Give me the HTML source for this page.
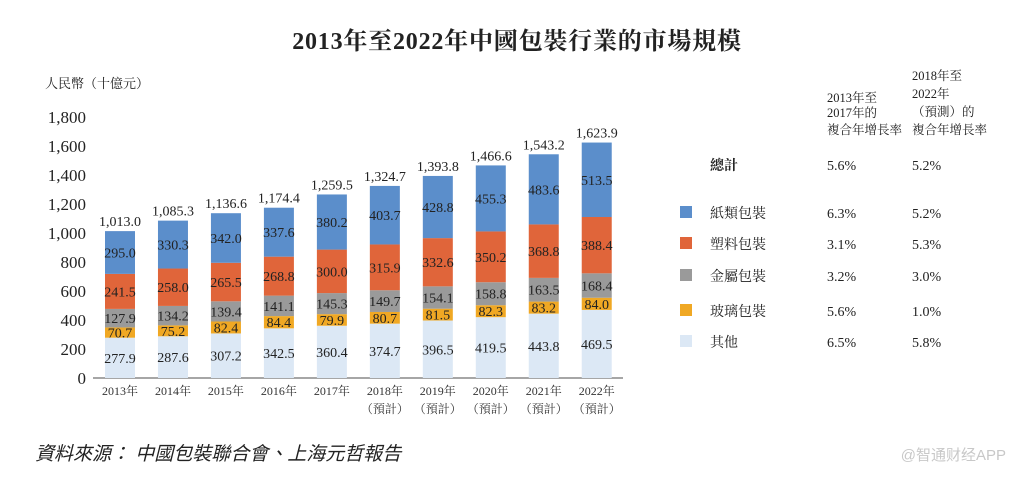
<!DOCTYPE html>
<html><head><meta charset="utf-8"><style>
body{margin:0;background:#fff;width:1013px;height:473px;overflow:hidden}
svg text{font-family:"Liberation Serif","Noto Serif CJK SC","Noto Sans CJK TC",serif;fill:#222}
</style></head><body>
<svg id="chart" width="1013" height="473">
<text x="517" y="49" text-anchor="middle" font-size="24" font-weight="bold" letter-spacing="0.8">2013年至2022年中國包裝行業的市場規模</text>
<text x="45" y="88" font-size="13">人民幣（十億元）</text>
<g id="yaxis"></g><g id="bars"></g><g id="xlabels"></g>
<g id="legend" font-size="14">
<text x="827" y="102" font-size="12.5">2013年至</text>
<text x="827" y="117" font-size="12.5">2017年的</text>
<text x="827" y="134" font-size="12.5">複合年增長率</text>
<text x="912" y="80" font-size="12.5">2018年至</text>
<text x="912" y="98" font-size="12.5">2022年</text>
<text x="912" y="116" font-size="12.5">（預測）的</text>
<text x="912" y="134" font-size="12.5">複合年增長率</text>
<text x="710" y="170" font-weight="bold">總計</text>
<text x="827" y="170">5.6%</text>
<text x="912" y="170">5.2%</text>
</g>
<text x="35" y="460" font-size="19" font-style="italic" style="font-family:'Liberation Sans','Noto Sans CJK TC',sans-serif">資料來源： 中國包裝聯合會、上海元哲報告</text>
<text x="1006" y="460" font-size="15" text-anchor="end" style="fill:#c8c8c8;font-family:'Liberation Sans','Noto Sans CJK SC',sans-serif">@智通财经APP</text>
</svg>
<script>
const years=["2013年","2014年","2015年","2016年","2017年","2018年","2019年","2020年","2021年","2022年"];
const yearSub=["","","","","","（預計）","（預計）","（預計）","（預計）","（預計）"];
const other=[277.9,287.6,307.2,342.5,360.4,374.7,396.5,419.5,443.8,469.5];
const glass=[70.7,75.2,82.4,84.4,79.9,80.7,81.5,82.3,83.2,84.0];
const metal=[127.9,134.2,139.4,141.1,145.3,149.7,154.1,158.8,163.5,168.4];
const plastic=[241.5,258.0,265.5,268.8,300.0,315.9,332.6,350.2,368.8,388.4];
const paper=[295.0,330.3,342.0,337.6,380.2,403.7,428.8,455.3,483.6,513.5];
const totals=["1,013.0","1,085.3","1,136.6","1,174.4","1,259.5","1,324.7","1,393.8","1,466.6","1,543.2","1,623.9"];
const yTicks=[0,200,400,600,800,1000,1200,1400,1600,1800];
const yTickLabels=["0","200","400","600","800","1,000","1,200","1,400","1,600","1,800"];
const seriesNames=["紙類包裝","塑料包裝","金屬包裝","玻璃包裝","其他"];
const cagr1=["6.3%","3.1%","3.2%","5.6%","6.5%"];
const cagr2=["5.2%","5.3%","3.0%","1.0%","5.8%"];

const NS="http://www.w3.org/2000/svg";
const y=v=>378-v*0.145;
const x=i=>105+i*52.97;
const bw=30;
function mk(parent,tag,attrs,txt){const e=document.createElementNS(NS,tag);for(const k in attrs)e.setAttribute(k,attrs[k]);if(txt!==undefined)e.textContent=txt;document.getElementById(parent).appendChild(e);return e;}
yTicks.forEach((t,i)=>{
  const e=mk("yaxis","text",{x:86,y:y(t)+6,"text-anchor":"end","font-size":17},yTickLabels[i]);
  
  
});
const ax=mk("yaxis","line",{x1:93,x2:623,y1:378,y2:378,stroke:"#a6a6a6","stroke-width":2});


const stack=[{d:other,c:"#dce8f5",n:"other"},{d:glass,c:"#f0a824",n:"glass"},{d:metal,c:"#9a9a9a",n:"metal"},{d:plastic,c:"#e0653a",n:"plastic"},{d:paper,c:"#5b8ecb",n:"paper"}];
years.forEach((yr,i)=>{
  let base=0;
  stack.forEach(s=>{
    const v=s.d[i];
    const r=mk("bars","rect",{x:x(i),y:y(base+v),width:bw,height:v*0.145,fill:s.c});
    
    
    const t=mk("bars","text",{x:x(i)+bw/2,y:y(base+v/2)+5,"text-anchor":"middle","font-size":14},v.toFixed(1));
    
    
    base+=v;
  });
  const tt=mk("bars","text",{x:x(i)+bw/2,y:y(base)-5,"text-anchor":"middle","font-size":14},totals[i]);
  
  
  const xl=mk("xlabels","text",{x:x(i)+bw/2,y:395,"text-anchor":"middle","font-size":12,style:"fill:#333"},yr);
  
  
  if(yearSub[i]){
    const xs=mk("xlabels","text",{x:x(i)+bw/2,y:413,"text-anchor":"middle","font-size":12,style:"fill:#333"},yearSub[i]);
    
    
  }
});
const legCols=["#5b8ecb","#e0653a","#9a9a9a","#f0a824","#dce8f5"];
const legY=[213,244,276,311,342];
seriesNames.forEach((n,i)=>{
  const r=mk("legend","rect",{x:680,y:legY[i]-7,width:12,height:12,fill:legCols[i]});
  
  
  const t=mk("legend","text",{x:710,y:legY[i]+5},n);
  
  
  const a=mk("legend","text",{x:827,y:legY[i]+5},cagr1[i]);
  
  
  const b=mk("legend","text",{x:912,y:legY[i]+5},cagr2[i]);
  
  
});
</script>
</body></html>
